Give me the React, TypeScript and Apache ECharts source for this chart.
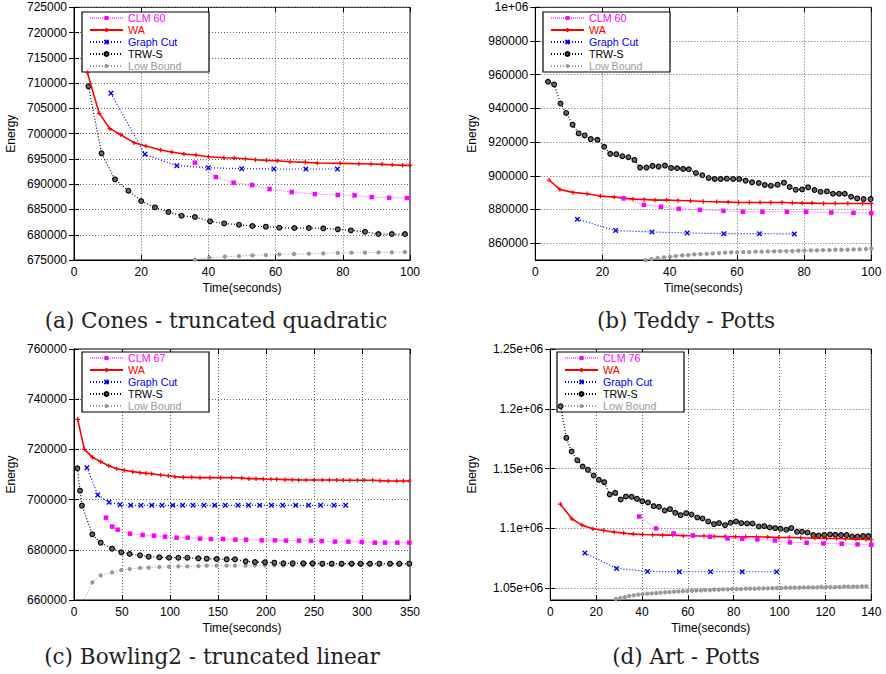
import React, { useEffect, useRef } from 'react';
import * as echarts from 'echarts';

type P = [number, number];

// ---------- (a) Cones - truncated quadratic ----------
const aClm: P[] = [[36.0,694270],[42.2,691420],[47.5,690300],[53.0,689840],[58.2,689050],[64.8,688450],[71.7,688060],[78.5,687860],[83.5,687790],[88.6,687460],[93.8,687330],[99.1,687270]];
const aWa: P[] = [[4.0,712070],[7.5,704020],[10.7,700990],[13.9,699800],[17.9,698220],[21.4,697560],[25.8,696770],[29.1,696370],[32.7,695970],[36.3,695770],[40.0,695440],[44.6,695240],[47.7,695180],[51.0,695050],[54.0,694850],[57.3,694720],[60.5,694650],[64.3,694450],[68.8,694330],[72.4,694190],[79.2,694130],[84.8,694060],[88.4,694000],[91.7,693930],[94.7,693860],[97.8,693730],[100,693730]];
const aGc: P[] = [[11.0,707980],[21.1,695910],[30.6,693670],[40.0,693270],[49.9,693070],[59.5,693010],[69.0,693010],[78.4,693010]];
const aTrw: P[] = [[4.3,709370],[8.2,696110],[12.2,690960],[16.2,688720],[20.0,686670],[24.1,685420],[28.1,684500],[32.0,683770],[36.0,683510],[40.5,682650],[44.7,682250],[49.1,681990],[53.1,681730],[57.1,681600],[61.1,681400],[65.6,681330],[69.9,681330],[74.2,681270],[78.5,681070],[82.4,680870],[86.6,680600],[90.6,680140],[94.6,680140],[98.5,680140]];
const aLb: P[] = [[36.0,675060],[40.3,675460],[44.9,675660],[49.1,675790],[53.1,675920],[57.1,675990],[61.1,676120],[65.5,676190],[69.9,676250],[74.2,676320],[78.5,676390],[82.6,676450],[86.6,676450],[90.6,676520],[94.6,676520],[98.5,676580]];

// ---------- (b) Teddy - Potts ----------
const bClm: P[] = [[26.3,886570],[32.3,882790],[37.4,881590],[42.7,880400],[49.0,879800],[56.0,879210],[61.8,878610],[67.6,878610],[74.9,878610],[80.6,878610],[88.1,878210],[94.7,878010],[100,877810]];
const bWa: P[] = [[4.1,897510],[7.3,891940],[11.2,890150],[15.4,889350],[19.4,887960],[23.5,887370],[26.3,886770],[29.1,886170],[32.4,885970],[35.6,885570],[39.1,885570],[42.5,885380],[46.2,885180],[50.0,884780],[54.0,884580],[57.4,884380],[60.5,884180],[63.7,884180],[66.9,884180],[70.1,884180],[73.4,884180],[76.5,883980],[79.4,883780],[82.4,883780],[85.8,883580],[89.3,883580],[93.0,883580],[97.4,883580],[100,883580]];
const bGc: P[] = [[12.5,874230],[23.9,867470],[34.7,866670],[45.2,866070],[56.1,865670],[66.7,865670],[77.1,865480]];
const bTrw: P[] = [[3.8,955820],[5.6,954230],[7.5,942890],[9.2,937310],[11.1,930350],[12.9,925180],[14.7,923980],[16.5,921790],[18.5,921390],[20.5,917210],[22.3,913040],[24.1,912840],[25.9,911640],[27.7,911050],[29.5,909450],[31.2,904880],[33.1,904880],[34.9,905870],[36.7,905470],[38.6,906070],[40.4,904680],[42.2,904480],[44.0,904080],[45.7,903880],[47.8,901690],[49.7,900300],[51.6,898710],[53.4,898110],[55.2,898110],[57.0,898310],[58.9,898110],[60.7,898110],[62.6,897120],[64.5,896120],[66.5,895720],[68.3,894530],[70.1,894130],[72.1,894730],[74.0,895920],[75.7,893340],[77.5,891740],[79.4,891940],[81.2,893140],[83.1,891540],[84.9,890550],[86.8,890750],[88.6,889350],[90.4,889350],[92.1,889350],[94.0,887560],[95.8,886570],[97.7,886170],[99.8,886170]];
const bLb: P[] = [[32.8,849950],[34.6,850550],[36.4,851150],[38.3,851550],[40.1,851940],[41.8,852340],[43.7,852740],[45.5,852940],[47.3,853340],[49.1,853540],[51.0,853730],[52.8,853930],[54.7,854130],[56.5,854330],[58.3,854530],[60.1,854530],[61.9,854730],[63.7,854730],[65.6,854930],[67.4,854930],[69.2,855130],[71.1,855130],[72.9,855330],[74.7,855330],[76.5,855330],[78.3,855530],[80.1,855530],[82.0,855720],[83.8,855720],[85.6,855920],[87.5,855920],[89.3,856120],[91.1,856120],[92.9,856120],[94.7,856320],[96.5,856320],[98.4,856520],[100,856720]];

// ---------- (c) Bowling2 - truncated linear ----------
const cClm: P[] = [[33.3,692800],[39.9,689220],[45.5,688020],[58.3,686430],[71.5,685900],[83.3,685630],[94.8,685230],[106.9,684840],[118.4,684840],[131.3,684440],[142.7,684310],[155.2,684310],[168.1,684040],[179.2,684040],[195.5,683780],[209.4,683780],[220.8,683640],[234.4,683640],[246.9,683640],[258.0,683510],[271.9,683250],[285.8,683250],[299.7,683120],[313.5,682850],[324.0,682850],[336.8,682850],[349.3,682850]];
const cWa: P[] = [[3.8,731980],[10.8,720030],[19.4,716840],[27.8,715110],[36.1,713520],[44.4,712320],[52.4,711660],[61.1,711130],[68.8,710730],[75.0,710460],[80.9,710330],[90.3,709800],[98.3,709530],[105.2,709140],[113.9,708870],[122.6,708870],[131.3,708740],[141.7,708740],[152.8,708740],[164.2,708740],[174.7,708610],[182.3,708340],[189.6,708340],[197.2,708210],[205.2,708080],[211.1,708080],[219.8,707940],[227.4,707940],[234.0,707810],[241.7,707810],[250.0,707810],[258.7,707810],[266.0,707810],[273.6,707810],[280.6,707680],[287.5,707680],[295.1,707680],[302.1,707680],[311.1,707680],[318.8,707550],[327.4,707410],[336.1,707410],[343.1,707410],[349.3,707410]];
const cGc: P[] = [[13.5,712720],[24.7,701830],[36.5,698910],[47.9,697980],[59.0,697710],[69.8,697710],[80.9,697710],[91.7,697710],[102.8,697710],[113.2,697710],[123.9,697710],[135.4,697710],[146.5,697710],[157.6,697710],[170.8,697710],[181.9,697710],[193.4,697710],[205.6,697710],[217.4,697710],[230.9,697710],[244.4,697710],[256.9,697710],[270.8,697710],[283.0,697710]];
const cTrw: P[] = [[3.5,712460],[6.3,703560],[8.3,697580],[19.1,686160],[27.8,682840],[39.6,680450],[49.3,678990],[58.0,678320],[68.8,677790],[77.8,677260],[88.9,677000],[99.0,676860],[108.7,676860],[118.1,676860],[129.5,676600],[138.2,676470],[148.6,676330],[159.0,676200],[167.7,676200],[178.8,675400],[188.5,675140],[199.0,675000],[208.7,674870],[218.1,674610],[227.8,674610],[238.9,674610],[248.6,674610],[258.7,674480],[268.4,674480],[278.8,674480],[289.2,674480],[298.6,674480],[308.3,674480],[318.1,674480],[329.2,674480],[338.9,674480],[349.3,674480]];
const cLb: P[] = [[8.3,658300],[19.1,667040],[27.8,669830],[39.6,671020],[49.3,671950],[58.0,672350],[68.8,672750],[77.8,672880],[88.9,673150],[99.0,673280],[108.7,673410],[118.1,673410],[129.5,673540],[138.2,673680],[148.6,673680],[159.0,673680],[167.7,673680],[178.8,673680],[188.5,673810],[199.0,673810],[208.7,673810],[218.1,673810],[227.8,673810],[238.9,673810],[248.6,673810],[258.7,673940],[268.4,673940],[278.8,673940],[289.2,673940],[298.6,673940],[308.3,673940],[318.1,673940],[329.2,673940],[338.9,673940],[349.3,673940]];

// ---------- (d) Art - Potts ----------
const dClm: P[] = [[38.8,1109890],[46.1,1099860],[53.8,1095680],[62.2,1094010],[69.6,1092900],[77.3,1091510],[83.7,1091230],[90.3,1090680],[98.0,1089840],[104.5,1088170],[111.8,1087890],[119.1,1087330],[127.1,1087060],[134.0,1086500],[140,1086220]];
const dWa: P[] = [[4.4,1120200],[9.4,1107940],[13.8,1102650],[18.6,1099580],[23.3,1098190],[27.9,1096800],[32.0,1095960],[36.2,1095130],[40.3,1094850],[44.6,1094580],[49.0,1094300],[53.4,1094300],[58.0,1093740],[62.4,1093740],[67.0,1093460],[71.5,1093180],[76.3,1093180],[80.8,1092900],[85.2,1092900],[90.0,1092900],[94.8,1092620],[99.6,1092350],[104.2,1092350],[109.2,1092070],[115.4,1091790],[120.5,1091510],[124.9,1091510],[128.7,1091230],[133.3,1090950],[137.7,1090680],[140,1090400]];
const dGc: P[] = [[15.1,1079250],[28.9,1066440],[42.4,1063930],[56.3,1063650],[69.9,1063650],[83.7,1063650],[98.7,1063650]];
const dTrw: P[] = [[4.5,1202090],[7.0,1175630],[9.3,1164210],[11.8,1156960],[14.1,1151670],[16.4,1148890],[18.9,1144150],[21.2,1140530],[23.5,1138580],[25.9,1128270],[28.3,1129670],[30.7,1124100],[33.0,1126600],[35.5,1126330],[37.8,1124650],[40.1,1122700],[42.6,1121590],[45.1,1118530],[47.4,1117970],[49.9,1114910],[52.2,1116020],[54.5,1112960],[56.8,1111010],[59.3,1112680],[61.6,1111570],[64.1,1109060],[66.4,1108220],[68.9,1105720],[71.4,1103490],[73.6,1104320],[76.2,1102650],[78.6,1104600],[81.0,1105720],[83.3,1104320],[85.8,1104040],[88.2,1104040],[90.9,1101540],[93.3,1101820],[95.7,1100700],[98.1,1100150],[100.4,1099590],[102.9,1098750],[105.1,1100150],[107.6,1097080],[109.8,1097080],[112.2,1096530],[114.7,1094300],[117.0,1094020],[119.5,1094300],[122.0,1094850],[124.3,1094580],[126.8,1094300],[129.2,1094300],[131.6,1093180],[134.0,1093180],[136.4,1093460],[138.7,1093460]];
const dLb: P[] = [[28.6,1040810],[30.5,1041650],[32.5,1042480],[34.4,1043320],[36.4,1043880],[38.4,1044430],[40.3,1044990],[42.3,1045270],[44.2,1045540],[46.2,1045820],[48.1,1046100],[50.1,1046380],[52.0,1046660],[54.0,1046930],[55.9,1047210],[57.9,1047490],[59.8,1047490],[61.8,1047770],[63.7,1048050],[65.7,1048050],[67.6,1048330],[69.6,1048330],[71.5,1048610],[73.5,1048610],[75.4,1048890],[77.4,1048890],[79.3,1049160],[81.3,1049160],[83.2,1049160],[85.2,1049440],[87.1,1049440],[89.1,1049440],[91.0,1049720],[93.0,1049720],[94.9,1049720],[96.9,1050000],[98.8,1050000],[100.8,1050000],[102.7,1050280],[104.7,1050280],[106.6,1050280],[108.6,1050280],[110.5,1050560],[112.5,1050560],[114.4,1050560],[116.4,1050560],[118.3,1050840],[120.3,1050840],[122.2,1050840],[124.2,1050840],[126.1,1050840],[128.1,1051110],[130.0,1051110],[132.0,1051110],[133.9,1051110],[135.9,1051390],[137.8,1051390]];

// tick values
const bYTicks = [860000, 880000, 900000, 920000, 940000, 960000, 980000, 1000000];
const dYTicks = [1050000, 1100000, 1150000, 1200000, 1250000];

const captions = ['(a) Cones - truncated quadratic', '(b) Teddy - Potts', '(c) Bowling2 - truncated linear', '(d) Art - Potts'];
const clmNames = ['CLM 60', 'CLM 60', 'CLM 67', 'CLM 76'];
const otherNames = ['WA', 'Graph Cut', 'TRW-S', 'Low Bound'];

const panelData = [
  [aClm, aWa, aGc, aTrw, aLb],
  [bClm, bWa, bGc, bTrw, bLb],
  [cClm, cWa, cGc, cTrw, cLb],
  [dClm, dWa, dGc, dTrw, dLb],
];

// layout (not data)
const layout = [
  { left: 74, top: 7.33, width: 336, height: 252.7, xMax: 100, xInt: 20, yMin: 675000, yMax: 725000, yInt: 5000, nameGap: 57, legend: [82, 12], cap: [216, 320] },
  { left: 535.3, top: 7.33, width: 336, height: 252.7, xMax: 100, xInt: 20, yMin: 850000, yMax: 1000000, yTicks: bYTicks, nameGap: 57, legend: [543, 12], cap: [686, 320] },
  { left: 74, top: 349, width: 336, height: 251, xMax: 350, xInt: 50, yMin: 660000, yMax: 760000, yInt: 20000, nameGap: 57, legend: [82, 352], cap: [212, 656] },
  { left: 550.3, top: 349, width: 321, height: 251, xMax: 140, xInt: 20, yMin: 1040000, yMax: 1250000, yTicks: dYTicks, nameGap: 72, legend: [557, 352], cap: [686, 656] },
];

const PLUS = 'path://M0,5 L10,5 M5,0 L5,10';
const CROSS = 'path://M0,0 L10,10 M10,0 L0,10';

const styles = [
  { color: '#ff00ff', line: '#ff66ff', type: [1, 1] as any, width: 1, symbol: 'rect', size: 4.5, border: '#ff00ff', bw: 0 },
  { color: '#ff0000', line: '#ff0000', type: 'solid', width: 1.6, symbol: PLUS, size: 4.5, border: '#ff0000', bw: 1.2 },
  { color: '#0000ff', line: '#0000ff', type: [1, 2] as any, width: 1.2, symbol: CROSS, size: 4.5, border: '#0000ff', bw: 1.4 },
  { color: '#666666', line: '#000000', type: [1, 2] as any, width: 1.2, symbol: 'circle', size: 4.8, border: '#000000', bw: 1.1 },
  { color: '#999999', line: '#999999', type: [1, 2] as any, width: 1, symbol: 'circle', size: 4.3, border: '#999999', bw: 0 },
];
const textColors = ['#ff00ff', '#ff0000', '#0000ff', '#000000', '#999999'];

const FONT = 'Liberation Sans';

function fmtY(i: number) {
  return (v: number) => {
    if (i === 1) return v === 1000000 ? '1e+06' : String(v);
    if (i === 3) return `${parseFloat((v / 1e6).toFixed(2))}e+06`;
    return String(v);
  };
}

function buildOption() {
  const grid: any[] = [];
  const xAxis: any[] = [];
  const yAxis: any[] = [];
  const series: any[] = [];
  const legend: any[] = [];
  const graphic: any[] = [];
  const splitLine = { show: true, lineStyle: { color: '#666', type: [1, 2], width: 1 } };
  const tick = { show: true, inside: true, length: 5, lineStyle: { color: '#000', width: 1 } };
  layout.forEach((L, i) => {
    grid.push({ left: L.left, top: L.top, width: L.width, height: L.height, show: true, borderColor: '#000', borderWidth: 1, backgroundColor: 'transparent' });
    const xBase = { type: 'value', gridIndex: i, min: 0, max: L.xMax, interval: L.xInt };
    xAxis.push({
      ...xBase, position: 'bottom',
      axisLine: { show: true, onZero: false, lineStyle: { color: '#000', width: 1 } },
      axisTick: tick, splitLine,
      axisLabel: { color: '#000', fontSize: 12, fontFamily: FONT, margin: 6 },
      name: 'Time(seconds)', nameLocation: 'middle', nameGap: 22,
      nameTextStyle: { color: '#000', fontSize: 12, fontFamily: FONT },
    });
    const yBase: any = { type: 'value', gridIndex: i, min: L.yMin, max: L.yMax };
    if (L.yInt) yBase.interval = L.yInt;
    const yTickCfg: any = { ...tick };
    const yLabelCfg: any = { color: '#000', fontSize: 12, fontFamily: FONT, margin: 7, formatter: fmtY(i) };
    if (L.yTicks) { yTickCfg.customValues = L.yTicks; yLabelCfg.customValues = L.yTicks; }
    yAxis.push({
      ...yBase, position: 'left',
      axisLine: { show: true, onZero: false, lineStyle: { color: '#000', width: 1 } },
      axisTick: yTickCfg, splitLine, axisLabel: yLabelCfg,
      name: 'Energy', nameLocation: 'middle', nameGap: L.nameGap,
      nameTextStyle: { color: '#000', fontSize: 12, fontFamily: FONT },
    });
    graphic.push({
      type: 'text', x: L.cap[0], y: L.cap[1],
      style: { text: captions[i], font: '21.5px "DejaVu Serif"', fill: '#222', textAlign: 'center', textVerticalAlign: 'middle' },
    });
    const names = [clmNames[i], ...otherNames];
    panelData[i].forEach((data, k) => {
      const s = styles[k];
      series.push({
        type: 'line', name: names[k], data, xAxisIndex: i, yAxisIndex: i,
        symbol: s.symbol, symbolSize: s.size, showAllSymbol: true, clip: true,
        lineStyle: { color: s.line, width: s.width, type: s.type },
        itemStyle: { color: s.color, borderColor: s.border, borderWidth: s.bw },
        z: 10 - k,
        emphasis: { disabled: true },
      });
    });
    legend.push({
      left: L.legend[0], top: L.legend[1], orient: 'vertical',
      backgroundColor: '#fff', borderColor: '#000', borderWidth: 1.2, borderRadius: 0,
      padding: [0, 6, 0, 7], itemGap: 0, itemWidth: 33, itemHeight: 5,
      selectedMode: false,
      data: names.map((n, k) => ({ name: n, textStyle: { color: textColors[k] } })),
      textStyle: { fontSize: 10.7, fontFamily: FONT, lineHeight: 12, width: 75, overflow: 'none' },
    });
  });
  // mirror axes (ticks on top / right)
  layout.forEach((L, i) => {
    xAxis.push({
      type: 'value', gridIndex: i, min: 0, max: L.xMax, interval: L.xInt, position: 'top',
      axisLine: { show: false }, axisLabel: { show: false }, splitLine: { show: false }, axisTick: tick,
    });
    const y: any = {
      type: 'value', gridIndex: i, min: L.yMin, max: L.yMax, position: 'right',
      axisLine: { show: false }, axisLabel: { show: false }, splitLine: { show: false },
      axisTick: L.yTicks ? { ...tick, customValues: L.yTicks } : tick,
    };
    if (L.yInt) y.interval = L.yInt;
    yAxis.push(y);
  });
  return {
    animation: false,
    textStyle: { fontFamily: FONT },
    grid, xAxis, yAxis, series, legend, graphic,
  };
}

export default function App() {
  const ref = useRef<HTMLDivElement>(null);
  useEffect(() => {
    document.body.style.margin = '0';
    if (!ref.current) return;
    const chart = echarts.init(ref.current, undefined, { renderer: 'svg' });
    chart.setOption(buildOption() as any);
    return () => chart.dispose();
  }, []);
  return <div ref={ref} style={{ width: 886, height: 674, background: '#fff' }} />;
}
